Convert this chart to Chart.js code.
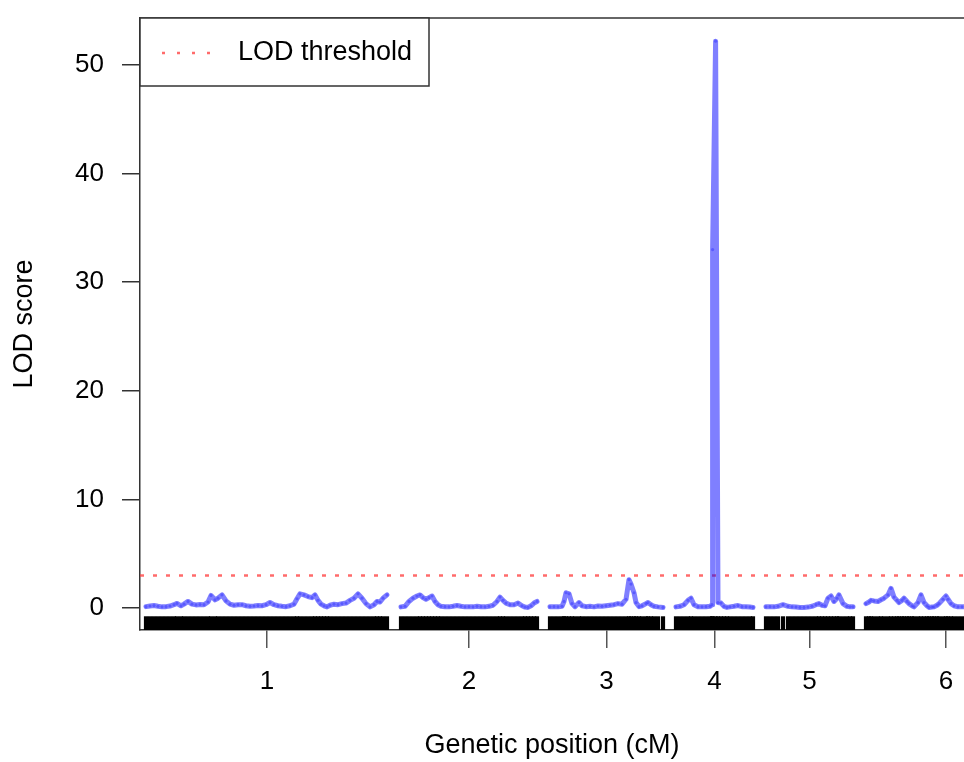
<!DOCTYPE html>
<html><head><meta charset="utf-8">
<script src="https://cdn.jsdelivr.net/npm/chart.js@4/dist/chart.umd.min.js"></script>
<style>html,body{margin:0;padding:0;background:#fff;overflow:hidden}canvas{display:block}</style>
</head><body><canvas id="c" width="964" height="762"></canvas>
<script>
// ---- data ----
const chromosomes = ['1', '2', '3', '4', '5', '6'];
const chrLengths = [121, 68, 56.5, 38.5, 43.5, 80];   // cM
const chrGap = 6.5;
const lodThreshold = 3;
const yTickValues = [0, 10, 20, 30, 40, 50];

const pos1 = [0,2,4,6,8,10,12,14,15.5,17.5,19,21,23,25,27,29,31,32.5,34.5,36,38,40,42,44,46,48,50,52,54,56,58,60,62,64,66,68,70,72,74,75.5,77,79,81,83,84.5,86,87.5,89,90.5,92,94,96,98,100,102,104,106,108,110,112,114,115.5,117,118.5,120.5];
const lod1 = [0.12,0.18,0.22,0.15,0.1,0.12,0.18,0.3,0.42,0.2,0.35,0.6,0.35,0.28,0.32,0.3,0.55,1.15,0.75,0.9,1.2,0.65,0.35,0.25,0.3,0.3,0.2,0.15,0.18,0.22,0.2,0.3,0.5,0.3,0.2,0.15,0.12,0.2,0.35,0.85,1.3,1.2,1.05,0.95,1.2,0.7,0.35,0.2,0.1,0.25,0.35,0.3,0.4,0.45,0.7,0.9,1.3,0.9,0.4,0.1,0.3,0.6,0.55,0.9,1.2];

const pos2 = [0,2,4,6,8,9.5,11,12.5,14,15.5,17,18.5,20,22,24,26,28,30,32,34,36,38,40,42,44,46,48,49.5,51,52.5,54.5,56.5,58.5,60.5,62,63.5,65,66.5,68];
const lod2 = [0.1,0.15,0.6,0.9,1.1,1.2,0.95,0.8,0.95,1.1,0.6,0.3,0.15,0.12,0.1,0.15,0.22,0.15,0.1,0.12,0.1,0.15,0.12,0.1,0.15,0.25,0.6,1.0,0.7,0.45,0.3,0.3,0.45,0.2,0.08,0.05,0.2,0.45,0.6];

const pos3 = [0,2,4,6,7,8,9.5,11,12.5,14.5,16,18,20,22,24,26,28,30,32,34,36,38,39.5,40.5,42,43,44.5,46,48,49,50.5,52,54,56.5];
const lod3 = [0.1,0.12,0.1,0.15,0.6,1.4,1.3,0.4,0.12,0.5,0.2,0.12,0.15,0.1,0.18,0.15,0.2,0.25,0.3,0.4,0.35,0.8,2.6,2.2,1.4,0.5,0.12,0.2,0.4,0.5,0.3,0.15,0.1,0.05];

const pos4 = [0,2,4,6,7.5,9,11,13,15,17,18,18.3,19.8,21,22.5,24,25.5,27,29,31,33,35,37,38.5];
const lod4 = [0.1,0.15,0.3,0.7,0.9,0.3,0.12,0.1,0.12,0.15,0.3,33,52.2,0.5,0.45,0.15,0.05,0.1,0.15,0.22,0.12,0.1,0.08,0.05];

const pos5 = [0,2,4,6,8.5,11,13,15,17,19,21,23,25,26.5,28,29.5,31,32.5,34,35.5,36.5,38.5,40.5,42,43.5];
const lod5 = [0.1,0.12,0.1,0.15,0.3,0.15,0.1,0.08,0.05,0.05,0.08,0.15,0.3,0.4,0.25,0.2,0.9,1.1,0.6,0.9,1.2,0.4,0.15,0.1,0.1];

const pos6 = [0,1.5,2.5,4,6,7.5,9,11,12.5,14,15.5,16.5,18,19,20.5,21.5,23,24,26,27.5,29,30.5,31.5,33,34,35.5,36.5,38.5,40,41,42.5,44,46,48,50];
const lod6 = [0.4,0.55,0.7,0.65,0.6,0.75,0.9,1.2,1.8,1.0,0.7,0.5,0.7,0.9,0.6,0.4,0.2,0.1,0.5,1.2,0.5,0.2,0.05,0.08,0.1,0.25,0.4,0.8,1.1,0.8,0.4,0.2,0.1,0.1,0.12];

const positions = [pos1, pos2, pos3, pos4, pos5, pos6];
const lods = [lod1, lod2, lod3, lod4, lod5, lod6];

// ---- build ----
const offsets = [];
let acc = 0;
chrLengths.forEach(L => { offsets.push(acc); acc += L + chrGap; });
const centers = offsets.map((o, i) => o + chrLengths[i] / 2);
const xMin = -3, xMax = 409;
const yMin = -2.03, yMax = 54.33;
const rugY = -1.43;
const FONT = "'Liberation Sans', Arial, Helvetica, sans-serif";

Chart.defaults.font.family = FONT;
Chart.defaults.color = '#000';

const datasets = [];
positions.forEach((pos, i) => {
  datasets.push({
    type: 'line',
    label: 'chr' + chromosomes[i],
    data: pos.map((p, j) => ({ x: offsets[i] + p, y: lods[i][j] })),
    borderColor: 'rgba(0,0,255,0.5)',
    borderWidth: 5,
    borderJoinStyle: 'round',
    borderCapStyle: 'round',
    pointRadius: 1.6,
    pointBackgroundColor: 'rgba(0,0,255,0.3)',
    pointBorderWidth: 0,
    tension: 0,
    order: 0
  });
});
datasets.push({
  type: 'line',
  label: 'LOD threshold',
  data: [{ x: xMin, y: lodThreshold }, { x: xMax, y: lodThreshold }],
  borderColor: 'rgba(255,70,70,0.8)',
  borderWidth: 2.5,
  borderDash: [4, 9],
  pointRadius: 0,
  order: 1
});
const rugData = [];
positions.forEach((pos, i) => pos.forEach(p => rugData.push({ x: offsets[i] + p, y: rugY })));
datasets.push({
  type: 'scatter',
  label: 'markers',
  data: rugData,
  pointStyle: 'line',
  rotation: 90,
  pointRadius: 7.2,
  borderColor: '#000',
  borderWidth: 4.2,
  order: 2
});

const framePlugin = {
  id: 'frame',
  afterDraw(chart) {
    const ctx = chart.ctx, a = chart.chartArea;
    ctx.save();
    ctx.strokeStyle = '#333';
    ctx.lineWidth = 1.5;
    ctx.beginPath();
    ctx.moveTo(a.left, a.top);
    ctx.lineTo(a.right, a.top);
    ctx.stroke();
    // legend box
    const bx = a.left, by = a.top, bw = 289, bh = 68;
    ctx.fillStyle = '#fff';
    ctx.fillRect(bx, by, bw, bh);
    ctx.strokeRect(bx, by, bw, bh);
    ctx.strokeStyle = 'rgba(255,70,70,0.8)';
    ctx.lineWidth = 2.5;
    ctx.setLineDash([3, 12]);
    ctx.beginPath();
    ctx.moveTo(bx + 22, by + 35);
    ctx.lineTo(bx + 72, by + 35);
    ctx.stroke();
    ctx.setLineDash([]);
    ctx.fillStyle = '#000';
    ctx.font = '27px ' + FONT;
    ctx.textBaseline = 'middle';
    ctx.textAlign = 'left';
    ctx.fillText('LOD threshold', bx + 98, by + 35);
    ctx.restore();
  }
};

new Chart(document.getElementById('c'), {
  data: { datasets },
  options: {
    responsive: false,
    animation: false,
    devicePixelRatio: 1,
    layout: { autoPadding: false, padding: { top: 18, right: 0, left: 0, bottom: 0 } },
    plugins: { legend: { display: false }, tooltip: { enabled: false } },
    scales: {
      x: {
        type: 'linear',
        min: xMin, max: xMax,
        afterBuildTicks: s => { s.ticks = centers.map(v => ({ value: v })); },
        afterFit: s => { s.height = 132; s.paddingLeft = 0; s.paddingRight = 0; },
        ticks: {
          autoSkip: false, maxRotation: 0, padding: 18,
          font: { size: 26 }, color: '#000',
          callback: (v, i) => chromosomes[i]
        },
        grid: { drawOnChartArea: false, drawTicks: true, tickLength: 18, color: '#555', lineWidth: 1.5 },
        border: { display: true, color: '#333', width: 1.5 },
        title: { display: true, text: 'Genetic position (cM)', font: { size: 27 }, color: '#000', padding: { top: 4, bottom: 0 } }
      },
      y: {
        type: 'linear',
        min: yMin, max: yMax,
        afterBuildTicks: s => { s.ticks = yTickValues.map(v => ({ value: v })); },
        afterFit: s => { s.width = 140; s.paddingTop = 0; s.paddingBottom = 0; },
        ticks: { padding: 18, font: { size: 26 }, color: '#000' },
        grid: { drawOnChartArea: false, drawTicks: true, tickLength: 18, color: '#333', lineWidth: 1.5 },
        border: { display: true, color: '#333', width: 1.5 },
        title: { display: true, text: 'LOD score', font: { size: 27 }, color: '#000', padding: { top: 8, bottom: 4 } }
      }
    }
  },
  plugins: [framePlugin]
});
</script>
</body></html>
